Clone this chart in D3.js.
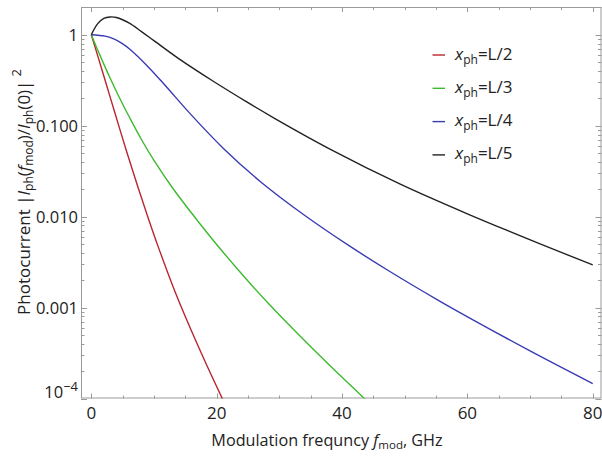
<!DOCTYPE html>
<html>
<head>
<meta charset="utf-8">
<script src="https://cdn.jsdelivr.net/npm/d3@7"></script>
<style>
  body { margin: 0; background: #fff; }
  text { font-family: "Open Sans", sans-serif; fill: #222; }
</style>
</head>
<body>
<svg id="chart" width="602" height="456"></svg>
<script>
//////////////////////------DATA------//////////////////////
var seriesNames = ["L/2", "L/3", "L/4", "L/5"];
var seriesColors = ["#b9262f", "#3dba2f", "#3b3bb5", "#222222"];

// x_ph = L/2
var freqL2 = [0, 0.75, 2.35, 3.94, 5.54, 7.3, 9.05, 10.7, 13.35, 15.75, 18.3, 21.06];
var valL2 = [1, 0.678, 0.2927, 0.1261, 0.05483, 0.02266, 0.009804, 0.004621, 0.001503, 0.000604, 0.000243, 0.0000949];

// x_ph = L/3
var freqL3 = [0, 1, 2, 3, 4.5, 6.17, 8, 10, 13, 17.3, 20.8, 24.5, 28.5, 33.3, 38.1, 43.3, 44];
var valL3 = [1, 0.684, 0.4753, 0.335, 0.203, 0.1208, 0.07047, 0.0415, 0.02051, 0.008414, 0.004241, 0.002145, 0.001065, 0.000486, 0.000229, 0.000104, 0.0000933];

// x_ph = L/4
var freqL4 = [0, 2.2, 3.5, 4.9, 6.2, 8.9, 11.8, 15.8, 21, 26.9, 34.3, 41.3, 47.7, 55.3, 60.1, 70, 80];
var valL4 = [1, 0.965, 0.906, 0.804, 0.688, 0.4566, 0.2768, 0.1349, 0.057, 0.02455, 0.01003, 0.004704, 0.002477, 0.001209, 0.000786, 0.000334, 0.000146];

// x_ph = L/5
var freqL5 = [0, 1, 2, 3, 4, 6, 8, 10, 14, 19.4, 24.8, 29.3, 38, 49.3, 60, 71.6, 80];
var valL5 = [1, 1.318, 1.514, 1.57, 1.549, 1.349, 1.084, 0.861, 0.543, 0.31, 0.1826, 0.1198, 0.0557, 0.02278, 0.01075, 0.00502, 0.002946];

var xMajor = [0, 20, 40, 60, 80];
var xMinor = [5, 10, 15, 25, 30, 35, 45, 50, 55, 65, 70, 75];
var yMajor = [1, 0.1, 0.01, 0.001, 0.0001];
var yMajorLabels = ["1", "0.100", "0.010", "0.001", "10^-4"];

////////////////////////////------SETUP------////////////////////////////
var svg = d3.select("#chart");
// note: "top" is taken by window.top, so plot edges get their own names
var plotLeft = 81, plotRight = 601.5, plotTop = 7, plotBottom = 398.5;

var x = d3.scaleLinear().domain([-1.64, 81.4]).range([plotLeft, plotRight]);
var y = d3.scaleLog().domain([1e-4, 2.02]).range([plotBottom, plotTop]);

var frameColor = "#9a9a9a";

// clip so curves stop at the frame
svg.append("clipPath").attr("id", "plotclip")
  .append("rect")
    .attr("x", plotLeft).attr("y", plotTop)
    .attr("width", plotRight - plotLeft).attr("height", plotBottom - plotTop);

////////////////////////////------TICKS------////////////////////////////
var ticks = svg.append("g").attr("stroke", frameColor).attr("stroke-width", 1);

// x ticks, bottom and top, pointing inward
function xTick(v, len) {
  var px = Math.round(x(v)) + 0.5;
  ticks.append("line").attr("x1", px).attr("x2", px).attr("y1", plotBottom).attr("y2", plotBottom - len);
  ticks.append("line").attr("x1", px).attr("x2", px).attr("y1", plotTop).attr("y2", plotTop + len);
}
xMajor.forEach(v => xTick(v, 5));
xMinor.forEach(v => xTick(v, 3));

// y ticks, left and right
function yTick(v, len) {
  var py = Math.round(y(v)) + 0.5;
  ticks.append("line").attr("x1", plotLeft).attr("x2", plotLeft + len).attr("y1", py).attr("y2", py);
  ticks.append("line").attr("x1", plotRight).attr("x2", plotRight - len).attr("y1", py).attr("y2", py);
}
yMajor.forEach(v => yTick(v, 6));
yMajor.forEach(d => {
  [2, 3, 4, 5, 6, 7, 8, 9].forEach(m => {
    var v = d * m;
    if (v <= y.domain()[1]) yTick(v, 3.5);
  });
});

// frame
svg.append("rect")
  .attr("x", plotLeft + 0.5).attr("y", plotTop + 0.5)
  .attr("width", plotRight - plotLeft - 1).attr("height", plotBottom - plotTop - 1)
  .attr("fill", "none").attr("stroke", frameColor).attr("stroke-width", 1);

////////////////////////////------TICK LABELS------////////////////////////////
svg.append("g").selectAll("text")
  .data(xMajor)
  .join("text")
    .attr("x", d => x(d))
    .attr("y", 419)
    .attr("text-anchor", "middle")
    .attr("font-size", 17)
    .text(d => d);

yMajorLabels.forEach((lab, i) => {
  var t = svg.append("text")
    .attr("x", 78)
    .attr("y", y(yMajor[i]) + 6)
    .attr("text-anchor", "end")
    .attr("font-size", 16.5);
  if (lab.indexOf("^") > -1) {
    var parts = lab.split("^");
    t.attr("y", y(yMajor[i]) - 0.5);
    t.append("tspan").text(parts[0]);
    t.append("tspan").attr("dy", -7).attr("font-size", 13).text(parts[1].replace("-", "\u2212"));
  } else {
    t.text(lab);
  }
});

////////////////////////////------AXIS TITLES------////////////////////////////
var xt = svg.append("text")
  .attr("x", 327).attr("y", 446)
  .attr("text-anchor", "middle")
  .attr("font-size", 16.2);
xt.append("tspan").text("Modulation frequncy ");
xt.append("tspan").attr("font-style", "italic").text("f");
xt.append("tspan").attr("font-size", 11.5).attr("dy", 3).text("mod");
xt.append("tspan").attr("dy", -3).text(", GHz");

var yt = svg.append("text")
  .attr("transform", "translate(29.5,192) rotate(-90)")
  .attr("text-anchor", "middle")
  .attr("font-size", 17);
yt.append("tspan").text("Photocurrent |");
yt.append("tspan").attr("font-style", "italic").text("I");
yt.append("tspan").attr("font-size", 12).attr("dy", 3).text("ph");
yt.append("tspan").attr("dy", -3).text("(");
yt.append("tspan").attr("font-style", "italic").text("f");
yt.append("tspan").attr("font-size", 12).attr("dy", 3).text("mod");
yt.append("tspan").attr("dy", -3).text(")/");
yt.append("tspan").attr("font-style", "italic").text("I");
yt.append("tspan").attr("font-size", 12).attr("dy", 3).text("ph");
yt.append("tspan").attr("dy", -3).text("(0)|");
yt.append("tspan").attr("font-size", 13).attr("dy", -9).attr("dx", 4).text("2");

////////////////////////////------CURVES------////////////////////////////
var allSeries = [
  {f: freqL2, v: valL2},
  {f: freqL3, v: valL3},
  {f: freqL4, v: valL4},
  {f: freqL5, v: valL5}
];

var line = d3.line()
  .x(d => x(d[0]))
  .y(d => y(d[1]))
  .curve(d3.curveCatmullRom.alpha(0.5));

svg.append("g")
  .attr("clip-path", "url(#plotclip)")
  .selectAll("path")
  .data(allSeries)
  .join("path")
    .attr("fill", "none")
    .attr("stroke", (d, i) => seriesColors[i])
    .attr("stroke-width", 1.4)
    .attr("d", d => line(d.f.map((f, i) => [f, d.v[i]])));

////////////////////////////------LEGEND------////////////////////////////
var legend = svg.append("g");
seriesNames.forEach((name, i) => {
  var ly = 55 + i * 33.3;
  legend.append("line")
    .attr("x1", 432.5).attr("x2", 445)
    .attr("y1", ly).attr("y2", ly)
    .attr("stroke", seriesColors[i]).attr("stroke-width", 1.4);
  var t = legend.append("text")
    .attr("x", 455).attr("y", ly + 4.5)
    .attr("font-size", 17);
  t.append("tspan").attr("font-style", "italic").text("x");
  t.append("tspan").attr("font-size", 12).attr("dy", 4).text("ph");
  t.append("tspan").attr("dy", -4).text("=" + name);
});
</script>
</body>
</html>
